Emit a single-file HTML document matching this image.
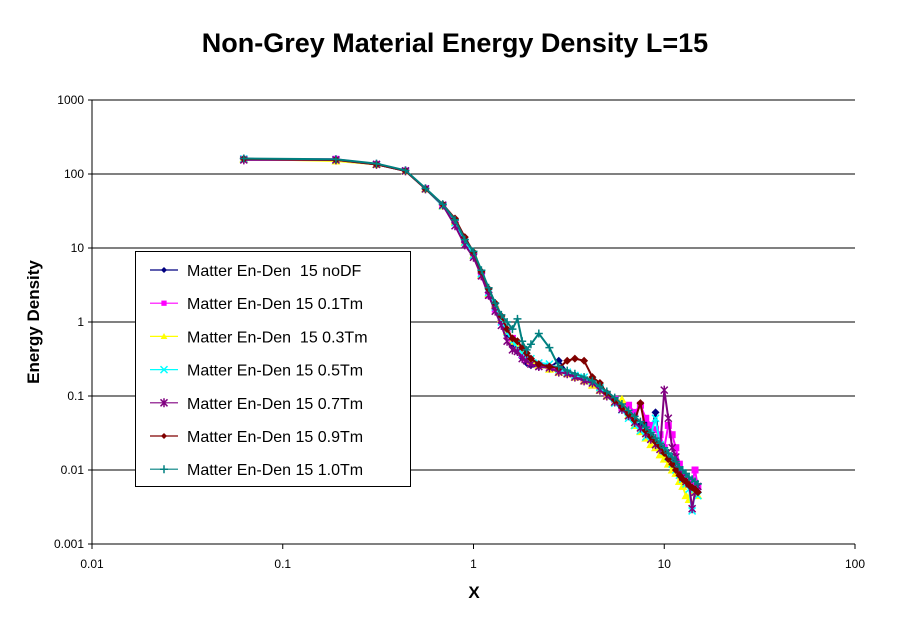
<!DOCTYPE html>
<html><head><meta charset="utf-8"><style>
body{margin:0;background:#fff;width:911px;height:623px;overflow:hidden}
svg{display:block;font-family:"Liberation Sans",Arial,sans-serif}
</style></head><body>
<svg id="chart" width="911" height="623">
<text x="455" y="52" text-anchor="middle" font-size="27" font-weight="bold">Non-Grey Material Energy Density L=15</text>
<text x="474" y="598" text-anchor="middle" font-size="17" font-weight="bold">X</text>
<text transform="translate(39,322) rotate(-90)" text-anchor="middle" font-size="17" font-weight="bold">Energy Density</text>
<g id="grid"></g><g id="series"></g><g id="legend"></g>
</svg>
<script>
const xTicks=[0.01,0.1,1,10,100];
const xTickLabels=["0.01","0.1","1","10","100"];
const yTicks=[0.001,0.01,0.1,1,10,100,1000];
const yTickLabels=["0.001","0.01","0.1","1","10","100","1000"];
const xs=[0.0625,0.19,0.31,0.44,0.56,0.69,0.8,0.9,1.0,1.1,1.2,1.3,1.4,1.5,1.6,1.7,1.8,1.9,2.0,2.2,2.5,2.8,3.1,3.4,3.8,4.2,4.6,5.0,5.5,6.0,6.5,7.0,7.5,8.0,8.5,9.0,9.5,10,10.5,11,11.5,12,12.5,13,13.5,14,14.5,15];
const seriesNames=["Matter En-Den  15 noDF","Matter En-Den 15 0.1Tm","Matter En-Den  15 0.3Tm","Matter En-Den 15 0.5Tm","Matter En-Den 15 0.7Tm","Matter En-Den 15 0.9Tm","Matter En-Den 15 1.0Tm"];
const yNoDF=[160,155,135,110,63,38,24,13,8.5,4.6,2.5,1.6,1.05,0.7,0.5,0.4,0.33,0.28,0.26,0.25,0.24,0.3,0.21,0.19,0.17,0.15,0.125,0.105,0.085,0.068,0.055,0.045,0.04,0.045,0.03,0.06,0.02,0.017,0.015,0.013,0.011,0.0095,0.0085,0.0075,0.0068,0.006,0.0055,0.005];
const y01=[158,158,135,110,63,37,23,12,8,4.2,2.3,1.5,1.0,0.75,0.6,0.45,0.36,0.32,0.29,0.26,0.24,0.22,0.2,0.18,0.16,0.14,0.12,0.1,0.09,0.07,0.075,0.06,0.075,0.05,0.04,0.035,0.03,0.02,0.04,0.03,0.02,0.012,0.009,0.008,0.007,0.0065,0.01,0.006];
const y03=[160,150,135,110,63,37,23,12,8,4.3,2.4,1.7,1.1,0.75,0.55,0.45,0.4,0.35,0.3,0.26,0.23,0.21,0.2,0.18,0.16,0.14,0.12,0.1,0.082,0.09,0.055,0.04,0.033,0.027,0.022,0.02,0.016,0.014,0.012,0.01,0.009,0.007,0.006,0.0045,0.004,0.005,0.005,0.0045];
const y05=[160,155,135,110,63,37,22,12,8,4.5,2.5,1.6,1.0,0.72,0.55,0.44,0.38,0.34,0.32,0.28,0.27,0.23,0.21,0.19,0.18,0.16,0.13,0.1,0.08,0.065,0.05,0.04,0.034,0.028,0.03,0.05,0.022,0.018,0.015,0.012,0.01,0.0085,0.0075,0.0065,0.0055,0.0028,0.005,0.0045];
const y07=[155,155,135,110,63,38,20,11,7.5,4.2,2.3,1.4,0.9,0.55,0.42,0.4,0.32,0.3,0.27,0.25,0.24,0.21,0.2,0.18,0.16,0.15,0.12,0.1,0.083,0.066,0.054,0.044,0.037,0.031,0.026,0.022,0.019,0.12,0.05,0.02,0.015,0.01,0.008,0.007,0.0065,0.003,0.005,0.006];
const y09=[160,155,135,110,63,39,25,14,8.8,4.8,2.8,1.8,1.2,0.8,0.6,0.55,0.45,0.38,0.32,0.27,0.25,0.24,0.3,0.32,0.3,0.18,0.15,0.11,0.088,0.07,0.057,0.047,0.08,0.034,0.028,0.024,0.021,0.017,0.014,0.012,0.01,0.0085,0.0075,0.007,0.0062,0.0058,0.0055,0.005];
const y10=[162,158,138,112,64,39,24,13,9,5,2.9,1.8,1.25,1.0,0.8,1.1,0.55,0.42,0.5,0.7,0.45,0.25,0.22,0.2,0.18,0.16,0.135,0.115,0.095,0.078,0.064,0.053,0.045,0.038,0.032,0.027,0.023,0.02,0.017,0.015,0.013,0.011,0.01,0.009,0.008,0.0075,0.007,0.0065];
const seriesY=[yNoDF,y01,y03,y05,y07,y09,y10];
const colors=["#000080","#ff00ff","#ffff00","#00ffff","#800080","#800000","#008080"];
const markers=["diamond","square","triangle","x","star","circle","plus"];
const L=92,R=855,T=100,B=544;
const xScale=v=>L+(Math.log10(v)+2)/4*(R-L);
const yScale=v=>B-(Math.log10(v)+3)/6*(B-T);
const NS="http://www.w3.org/2000/svg";
function mk(t,a,p){const e=document.createElementNS(NS,t);for(const k in a)e.setAttribute(k,a[k]);p.appendChild(e);return e;}
const grid=document.getElementById('grid');
yTicks.forEach((v,i)=>{const y=yScale(v);
 const g=mk('line',{x1:L-4,x2:R,y1:y,y2:y,stroke:'#000','stroke-width':1},grid);
 
 
 const t=mk('text',{x:L-8,y:y+4,'text-anchor':'end','font-size':12},grid);t.textContent=yTickLabels[i];
 
 });
const ax=mk('line',{x1:L,x2:L,y1:T,y2:B,stroke:'#000'},grid);


xTicks.forEach((v,i)=>{const x=xScale(v);
 const tk=mk('line',{x1:x,x2:x,y1:B,y2:B+5,stroke:'#000'},grid);
 
 
 const t=mk('text',{x:x,y:B+24,'text-anchor':'middle','font-size':12},grid);t.textContent=xTickLabels[i];
 
 });
function marker(kind,x,y,c,p,s){
 s=s||1;let e;
 if(kind==='diamond'||kind==='circle')e=mk('path',{d:`M${x} ${y-4*s}L${x+4*s} ${y}L${x} ${y+4*s}L${x-4*s} ${y}Z`,fill:c},p);
 else if(kind==='square')e=mk('rect',{x:x-3.5*s,y:y-3.5*s,width:7*s,height:7*s,fill:c},p);
 else if(kind==='triangle')e=mk('path',{d:`M${x} ${y-4.5*s}L${x+4.5*s} ${y+3.5*s}L${x-4.5*s} ${y+3.5*s}Z`,fill:c},p);
 else if(kind==='x')e=mk('path',{d:`M${x-3.5} ${y-3.5}L${x+3.5} ${y+3.5}M${x+3.5} ${y-3.5}L${x-3.5} ${y+3.5}`,stroke:c,'stroke-width':1.5},p);
 else if(kind==='star')e=mk('path',{d:`M${x-3.5} ${y-3.5}L${x+3.5} ${y+3.5}M${x+3.5} ${y-3.5}L${x-3.5} ${y+3.5}M${x} ${y-4.5}L${x} ${y+4.5}`,stroke:c,'stroke-width':1.5},p);
 else e=mk('path',{d:`M${x-4} ${y}L${x+4} ${y}M${x} ${y-4}L${x} ${y+4}`,stroke:c,'stroke-width':1.5},p);
 return e;}
const sg=document.getElementById('series');
seriesY.forEach((ys,si)=>{
 const g=mk('g',{},sg);
 
 
 const d=ys.map((v,i)=>(i?'L':'M')+xScale(xs[i]).toFixed(1)+' '+yScale(v).toFixed(1)).join('');
 const pl=mk('path',{d:d,fill:'none',stroke:colors[si],'stroke-width':2},g);
 
 
 ys.forEach((v,i)=>{const m=marker(markers[si],xScale(xs[i]),yScale(v),colors[si],g);
  
  });
});
const lg=document.getElementById('legend');
const box=mk('rect',{x:135.5,y:251.5,width:275,height:235,fill:'#fff',stroke:'#000'},lg);


seriesNames.forEach((n,i)=>{const y=270+i*33.2;
 const g=mk('g',{},lg);
 
 
 mk('line',{x1:150,x2:178,y1:y,y2:y,stroke:colors[i],'stroke-width':1.2},g);
 marker(markers[i],164,y,colors[i],g,0.75);
 const t=mk('text',{x:187,y:y+6,'font-size':16},g);t.textContent=n;t.style.whiteSpace='pre';});
</script>
</body></html>
